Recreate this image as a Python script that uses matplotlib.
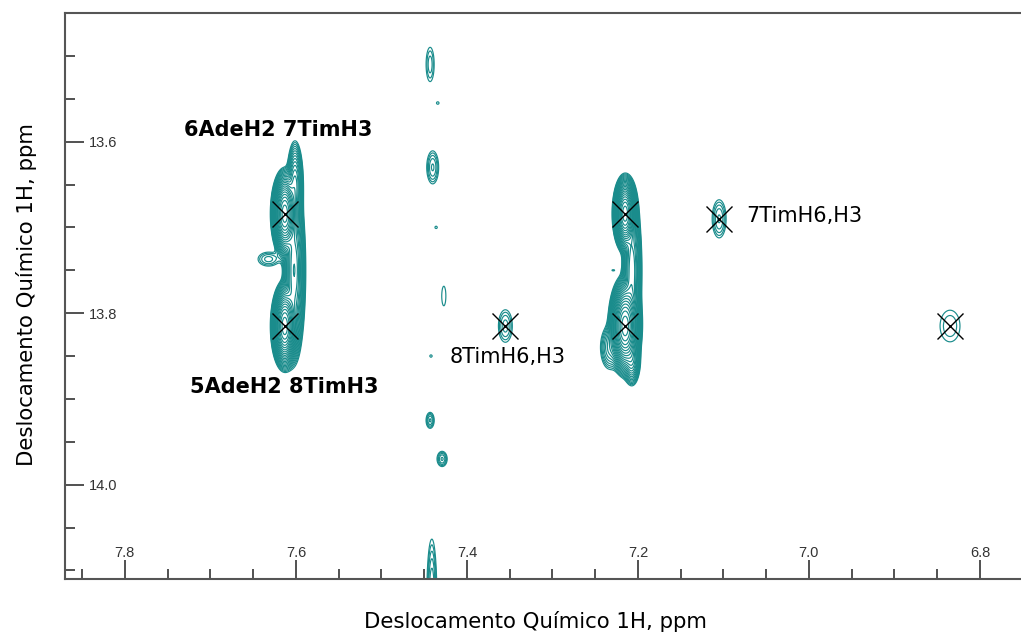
import numpy as np
import matplotlib
matplotlib.use('Agg')
import matplotlib.pyplot as plt

# peak list: centre (ppm), height, widths (ppm)
peak_x = [7.613, 7.613, 7.602, 7.601, 7.632,
          7.215, 7.215, 7.207, 7.207, 7.233, 7.229,
          7.355, 7.105, 6.835,
          7.443, 7.434, 7.440, 7.436, 7.427, 7.442, 7.443, 7.429, 7.441]
peak_y = [13.684, 13.815, 13.750, 13.650, 13.737,
          13.684, 13.815, 13.750, 13.855, 13.840, 13.750,
          13.815, 13.690, 13.815,
          13.510, 13.555, 13.630, 13.700, 13.780, 13.850, 13.925, 13.970, 14.130]
peak_amp = [3.0, 3.0, 0.40, 0.25, 0.025,
            3.0, 3.0, 0.30, 0.20, 0.050, 0.0105,
            0.025, 0.030, 0.016,
            0.020, 0.0104, 0.030, 0.0104, 0.012, 0.0104, 0.030, 0.030, 0.040]
peak_sx = [0.0050, 0.0050, 0.0050, 0.0038, 0.0090,
           0.0045, 0.0060, 0.0045, 0.0040, 0.0060, 0.0040,
           0.0060, 0.0055, 0.0120,
           0.0040, 0.0050, 0.0047, 0.0050, 0.0040, 0.0050, 0.0032, 0.0040, 0.0035]
peak_sy = [0.016, 0.016, 0.040, 0.020, 0.006,
           0.014, 0.018, 0.035, 0.012, 0.014, 0.002,
           0.014, 0.015, 0.019,
           0.017, 0.005, 0.013, 0.005, 0.019, 0.005, 0.0063, 0.006, 0.040]

# assigned cross peaks
cross_x = [7.613, 7.613, 7.355, 7.215, 7.215, 7.105, 6.835]
cross_y = [13.684, 13.815, 13.815, 13.684, 13.815, 13.690, 13.815]

labels = ['6AdeH2 7TimH3', '5AdeH2 8TimH3', '8TimH6,H3', '7TimH6,H3']
label_x = [7.621, 7.614, 7.420, 7.073]
label_y = [13.586, 13.886, 13.851, 13.687]

xticks = [7.8, 7.6, 7.4, 7.2, 7.0, 6.8]
yticks = [13.6, 13.8, 14.0]

teal = '#1a8c8c'

xs = np.linspace(6.75, 7.87, 1300)
ys = np.linspace(13.44, 14.16, 950)
X, Y = np.meshgrid(xs, ys)
Z = np.zeros_like(X)
for px, py, a, sx, sy in zip(peak_x, peak_y, peak_amp, peak_sx, peak_sy):
    Z += a * np.exp(-((X - px) ** 2 / (2 * sx ** 2) + (Y - py) ** 2 / (2 * sy ** 2)))

levels = 0.01 * 1.3 ** np.arange(25)

fig = plt.figure(figsize=(10.21, 6.34), dpi=100)
ax = fig.add_axes([65 / 1021, 55 / 634, 956 / 1021, 566 / 634])
ax.contour(X, Y, Z, levels=levels, colors=teal, linewidths=0.85)
ax.plot(cross_x, cross_y, 'x', color='black', ms=19, mew=1.0)

for i, (t, lx, ly) in enumerate(zip(labels, label_x, label_y)):
    if i < 2:
        ax.text(lx, ly, t, ha='center', va='center', fontsize=15, fontweight='bold')
    else:
        ax.text(lx, ly, t, ha='left', va='center', fontsize=15)

ax.set_xticks(xticks, labels=[f'{v:.1f}' for v in xticks], va='bottom',
              fontfamily='Liberation Sans', fontsize=10.5, color='#333333')
ax.set_yticks(yticks, labels=[f'{v:.1f}' for v in yticks], ha='left',
              fontfamily='Liberation Sans', fontsize=10.5, color='#333333')
ax.set_xticks(np.arange(6.80, 7.9, 0.05), minor=True)
ax.set_yticks(np.arange(13.50, 14.11, 0.05), minor=True)
ax.tick_params(which='major', direction='in', length=14, width=1.2, color='#333333')
ax.tick_params(which='minor', direction='in', length=7, width=1.2, color='#333333')
ax.tick_params(axis='y', which='major', pad=-17)
ax.tick_params(axis='x', which='major', pad=-13.5)

ax.set_xlim(7.87, 6.752)
ax.set_ylim(14.11, 13.45)

for side in ['left', 'bottom', 'top']:
    ax.spines[side].set_color('#555555')
    ax.spines[side].set_linewidth(1.5)
ax.spines['right'].set_visible(False)

fig.text(535 / 1021, 1 - 621 / 634, 'Deslocamento Químico 1H, ppm', ha='center', va='center', fontsize=15.3)
fig.text(27 / 1021, 1 - 295 / 634, 'Deslocamento Químico 1H, ppm', ha='center', va='center',
         rotation=90, fontsize=15.3)

fig.savefig('out.png', dpi=100)
